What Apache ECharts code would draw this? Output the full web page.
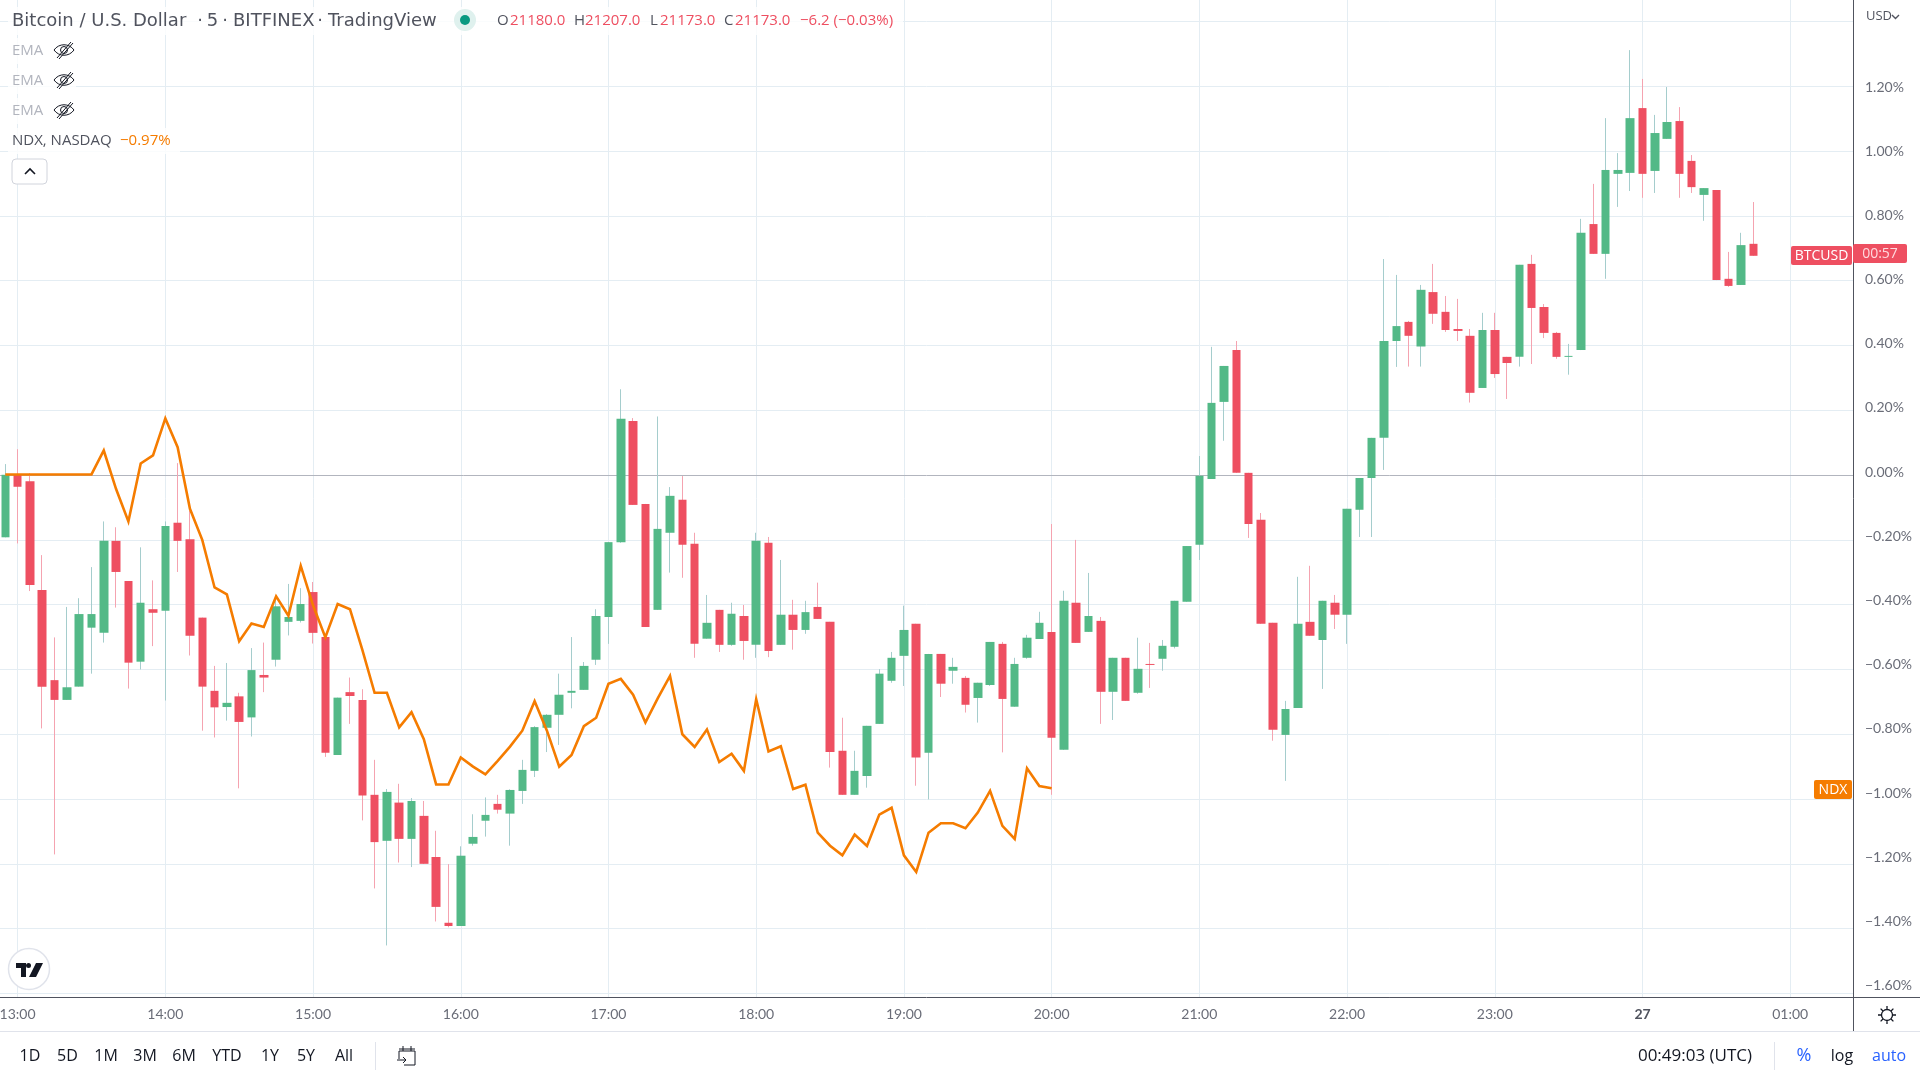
<!DOCTYPE html>
<html lang="en">
<head>
<meta charset="UTF-8">
<title>Bitcoin / U.S. Dollar</title>
<style>
    html, body { margin: 0; padding: 0; background: #fff; }
    #main { width: 1920px; height: 1080px; }
</style>
<script src="https://cdn.jsdelivr.net/npm/echarts@6/dist/echarts.min.js"></script>
</head>
<body>
<div id="main"></div>
<script>
// 5 minute bars, values are % change from the first bar (UTC, 26th into 27th)
const times = [
    '12:55',
    '13:00','13:05','13:10','13:15','13:20','13:25','13:30','13:35','13:40','13:45','13:50','13:55',
    '14:00','14:05','14:10','14:15','14:20','14:25','14:30','14:35','14:40','14:45','14:50','14:55',
    '15:00','15:05','15:10','15:15','15:20','15:25','15:30','15:35','15:40','15:45','15:50','15:55',
    '16:00','16:05','16:10','16:15','16:20','16:25','16:30','16:35','16:40','16:45','16:50','16:55',
    '17:00','17:05','17:10','17:15','17:20','17:25','17:30','17:35','17:40','17:45','17:50','17:55',
    '18:00','18:05','18:10','18:15','18:20','18:25','18:30','18:35','18:40','18:45','18:50','18:55',
    '19:00','19:05','19:10','19:15','19:20','19:25','19:30','19:35','19:40','19:45','19:50','19:55',
    '20:00','20:05','20:10','20:15','20:20','20:25','20:30','20:35','20:40','20:45','20:50','20:55',
    '21:00','21:05','21:10','21:15','21:20','21:25','21:30','21:35','21:40','21:45','21:50','21:55',
    '22:00','22:05','22:10','22:15','22:20','22:25','22:30','22:35','22:40','22:45','22:50','22:55',
    '23:00','23:05','23:10','23:15','23:20','23:25','23:30','23:35','23:40','23:45','23:50','23:55',
    '00:00','00:05','00:10','00:15','00:20','00:25','00:30','00:35','00:40','00:45'
];
const opens = [
    -0.192,0.001,-0.019,-0.355,-0.633,-0.694,-0.653,-0.471,-0.487,-0.203,
    -0.327,-0.576,-0.414,-0.419,-0.147,-0.198,-0.440,-0.666,-0.716,-0.683,
    -0.748,-0.617,-0.570,-0.453,-0.450,-0.361,-0.500,-0.864,-0.670,-0.694,
    -0.987,-1.129,-1.011,-1.123,-1.052,-1.179,-1.382,-1.392,-1.138,-1.067,
    -1.015,-1.045,-0.975,-0.913,-0.780,-0.740,-0.672,-0.663,-0.570,-0.438,
    -0.207,0.167,-0.089,-0.416,-0.178,-0.076,-0.212,-0.505,-0.416,-0.524,
    -0.435,-0.524,-0.209,-0.524,-0.431,-0.478,-0.407,-0.453,-0.851,-0.987,
    -0.929,-0.768,-0.635,-0.558,-0.459,-0.857,-0.552,-0.604,-0.626,-0.688,
    -0.648,-0.521,-0.715,-0.564,-0.506,-0.484,-0.848,-0.394,-0.484,-0.450,
    -0.669,-0.564,-0.672,-0.583,-0.567,-0.530,-0.391,-0.215,-0.012,0.226,
    0.386,0.007,-0.138,-0.456,-0.802,-0.719,-0.453,-0.509,-0.394,-0.431,
    -0.107,-0.009,0.115,0.414,0.473,0.397,0.565,0.504,0.451,0.430,
    0.269,0.448,0.365,0.365,0.652,0.519,0.439,0.365,0.386,0.775,
    0.683,0.930,0.933,1.133,0.939,1.038,1.093,0.970,0.865,0.880,
    0.606,0.587,0.714
];
const closes = [
    0.001,-0.036,-0.339,-0.653,-0.694,-0.655,-0.429,-0.429,-0.203,-0.299,
    -0.579,-0.394,-0.425,-0.157,-0.203,-0.496,-0.653,-0.717,-0.703,-0.762,
    -0.602,-0.625,-0.405,-0.438,-0.398,-0.487,-0.857,-0.687,-0.682,-0.989,
    -1.133,-0.978,-1.123,-1.006,-1.200,-1.333,-1.392,-1.175,-1.117,-1.049,
    -1.033,-0.972,-0.910,-0.778,-0.740,-0.678,-0.666,-0.589,-0.435,-0.207,
    0.174,-0.092,-0.469,-0.166,-0.064,-0.215,-0.521,-0.456,-0.524,-0.428,
    -0.512,-0.203,-0.543,-0.431,-0.478,-0.423,-0.444,-0.855,-0.987,-0.913,
    -0.774,-0.613,-0.564,-0.478,-0.872,-0.552,-0.644,-0.592,-0.709,-0.641,
    -0.515,-0.691,-0.583,-0.502,-0.456,-0.811,-0.388,-0.518,-0.435,-0.669,
    -0.564,-0.697,-0.598,-0.586,-0.527,-0.388,-0.219,-0.002,0.223,0.337,
    0.007,-0.151,-0.459,-0.786,-0.722,-0.459,-0.496,-0.388,-0.431,-0.104,
    -0.009,0.115,0.414,0.460,0.430,0.572,0.498,0.448,0.445,0.254,
    0.448,0.312,0.346,0.649,0.516,0.439,0.365,0.368,0.748,0.683,
    0.942,0.942,1.102,0.930,1.056,1.090,0.930,0.889,0.886,0.602,
    0.584,0.710,0.677
];
const highs = [
    0.034,0.080,0.006,-0.247,-0.501,-0.407,-0.380,-0.284,-0.143,-0.161,
    -0.327,-0.223,-0.325,-0.143,0.037,-0.110,-0.440,-0.589,-0.580,-0.672,
    -0.534,-0.517,-0.374,-0.336,-0.349,-0.330,-0.500,-0.687,-0.625,-0.661,
    -0.879,-0.969,-0.953,-0.997,-1.006,-1.098,-1.201,-1.146,-1.047,-0.995,
    -0.987,-0.970,-0.879,-0.775,-0.738,-0.613,-0.500,-0.577,-0.414,-0.207,
    0.265,0.176,-0.089,0.181,-0.037,-0.003,-0.178,-0.370,-0.416,-0.394,
    -0.401,-0.178,-0.191,-0.262,-0.385,-0.388,-0.332,-0.453,-0.749,-0.851,
    -0.774,-0.599,-0.546,-0.403,-0.459,-0.552,-0.552,-0.564,-0.620,-0.641,
    -0.515,-0.515,-0.564,-0.493,-0.422,-0.151,-0.357,-0.200,-0.302,-0.438,
    -0.564,-0.564,-0.502,-0.518,-0.509,-0.388,-0.219,0.059,0.396,0.337,
    0.414,0.007,-0.117,-0.456,-0.697,-0.314,-0.280,-0.388,-0.370,-0.104,
    -0.009,0.115,0.667,0.618,0.476,0.587,0.652,0.553,0.544,0.451,
    0.501,0.501,0.365,0.649,0.680,0.528,0.442,0.405,0.791,0.899,
    1.102,0.994,1.312,1.223,1.112,1.198,1.136,0.988,0.886,0.880,
    0.689,0.748,0.843
];
const lows = [
    -0.192,-0.211,-0.358,-0.782,-1.171,-0.694,-0.653,-0.613,-0.517,-0.409,
    -0.659,-0.600,-0.528,-0.696,-0.299,-0.557,-0.789,-0.810,-0.758,-0.967,
    -0.807,-0.670,-0.591,-0.495,-0.455,-0.520,-0.870,-0.864,-0.768,-1.066,
    -1.276,-1.452,-1.196,-1.210,-1.200,-1.378,-1.396,-1.392,-1.144,-1.116,
    -1.045,-1.144,-1.015,-0.932,-0.855,-0.833,-0.720,-0.663,-0.586,-0.521,
    -0.209,-0.092,-0.469,-0.416,-0.301,-0.317,-0.564,-0.505,-0.546,-0.527,
    -0.570,-0.564,-0.562,-0.524,-0.539,-0.490,-0.444,-0.903,-0.987,-0.987,
    -0.965,-0.768,-0.641,-0.651,-0.959,-1.001,-0.685,-0.644,-0.733,-0.764,
    -0.651,-0.856,-0.715,-0.567,-0.506,-0.987,-0.848,-0.518,-0.484,-0.768,
    -0.756,-0.697,-0.675,-0.657,-0.604,-0.535,-0.391,-0.262,-0.012,0.106,
    0.007,-0.194,-0.459,-0.820,-0.944,-0.719,-0.496,-0.660,-0.475,-0.521,
    -0.191,-0.191,0.016,0.334,0.335,0.335,0.467,0.442,0.414,0.224,
    0.269,0.300,0.235,0.335,0.343,0.423,0.359,0.310,0.386,0.683,
    0.606,0.828,0.877,0.856,0.871,1.038,0.856,0.871,0.785,0.602,
    0.581,0.587,0.677
];
// NDX overlay stops at 20:00 when the cash session closes
const ndx = [
    0.002,0.002,0.002,0.002,0.002,0.002,0.002,0.002,0.076,-0.043,
    -0.143,0.036,0.061,0.175,0.086,-0.104,-0.200,-0.347,-0.368,-0.513,
    -0.458,-0.469,-0.374,-0.434,-0.280,-0.402,-0.501,-0.398,-0.414,-0.539,
    -0.672,-0.672,-0.779,-0.732,-0.815,-0.955,-0.955,-0.872,-0.900,-0.924,
    -0.882,-0.838,-0.789,-0.698,-0.789,-0.900,-0.864,-0.775,-0.749,-0.644,
    -0.629,-0.678,-0.764,-0.689,-0.620,-0.800,-0.839,-0.785,-0.886,-0.860,
    -0.913,-0.692,-0.853,-0.837,-0.969,-0.956,-1.104,-1.144,-1.174,-1.110,
    -1.145,-1.048,-1.027,-1.174,-1.225,-1.104,-1.075,-1.075,-1.090,-1.042,
    -0.975,-1.083,-1.123,-0.905,-0.960,-0.967
];
const gridValues = [1.4,1.2,1.0,0.8,0.6,0.4,0.2,-0.2,-0.4,-0.6,-0.8,-1.0,-1.2,-1.4,-1.6];
const priceLabels = [1.2,1.0,0.8,0.6,0.4,0.2,0,-0.2,-0.4,-0.6,-0.8,-1.0,-1.2,-1.4,-1.6];

const UP = '#53b987', DOWN = '#ee4f61';
const UP_WICK = '#a5cdcd', DOWN_WICK = '#f5a3b0';
const ORANGE = '#f57c00', BLUE = '#2962ff', INK = '#131722', GREY = '#50535e', AXIS_TEXT = '#6a6d78';
const FONT = '"Open Sans", Lato, sans-serif';
const WIDE_FONT = '"DejaVu Sans", "Open Sans", sans-serif';
const AXIS_FONT = 'Lato, "Open Sans", sans-serif';

// 27th when the hour has rolled past midnight
function toTs(t) {
    const [h, m] = t.split(':').map(Number);
    return Date.UTC(2022, 6, h < 12 ? 27 : 26, h, m);
}
const barTs = times.map(toTs);
const FIVE_MIN = 300000;
const HOUR = 3600000;
const tMin = barTs[0] - 0.43 * FIVE_MIN;
const tMax = barTs[0] + 150.1 * FIVE_MIN;

const wickData = times.map((t, i) => [barTs[i], opens[i], closes[i], lows[i], highs[i]]);
const bodyData = times.map((t, i) => [barTs[i], opens[i], closes[i], Math.min(opens[i], closes[i]), Math.max(opens[i], closes[i])]);
const ndxData = ndx.map((v, i) => [barTs[i], v]);

function label(x, y, text, fill, size, align, family) {
    return {
        type: 'text', x: x, y: y, silent: true, z: 20,
        style: { text: text, fill: fill, fontSize: size, fontFamily: family || FONT, align: align || 'left', verticalAlign: 'middle' }
    };
}
function rect(x, y, w, h, fill, r, opacity, stroke) {
    return {
        type: 'rect', silent: true, z: 10,
        shape: { x: x, y: y, width: w, height: h, r: r || 0 },
        style: { fill: fill, opacity: opacity == null ? 1 : opacity, stroke: stroke || null, lineWidth: stroke ? 1 : 0 }
    };
}
function line(x1, y1, x2, y2, stroke) {
    return { type: 'line', silent: true, z: 9, shape: { x1: x1, y1: y1, x2: x2, y2: y2 }, style: { stroke: stroke, lineWidth: 1 } };
}

// graphic has no plain path type, so the little glyphs get registered as shapes
const GLYPHS = {
    eye: 'M0 9C5 2 15 2 20 9C15 16 5 16 0 9ZM6.5 9a3.5 3.5 0 1 0 7 0a3.5 3.5 0 1 0 -7 0ZM3 17L17 1M5 18L19 2',
    calendar: 'M2 5H18V19H7M2 5V13M2 3H18M6 0V5M14 0V5M0 14H9M6 11L9 14L6 17',
    gear: 'M3.5 9a5.5 5.5 0 1 0 11 0a5.5 5.5 0 1 0 -11 0ZM9 0V3M9 15V18M0 9H3M15 9H18M2.6 2.6L4.7 4.7M13.3 13.3L15.4 15.4M2.6 15.4L4.7 13.3M13.3 4.7L15.4 2.6',
    tvlogo: 'M0 0H10V14H5V5H0ZM20 0H27L20 14H13Z',
    chevronUp: 'M0 5L5 0L10 5',
    caret: 'M0 0L3.5 3.5L7 0'
};
Object.keys(GLYPHS).forEach(function (name) {
    echarts.graphic.registerShape(name, echarts.graphic.extendPath(GLYPHS[name], {}));
});
function icon(name, x, y, stroke, fill, width) {
    return { type: name, silent: true, z: 20, x: x, y: y, style: { stroke: stroke || null, fill: fill || 'none', lineWidth: width || 1 } };
}

const graphics = [
    // legend backdrops, the grid shows through faintly
    rect(8, 7, 895, 28, '#fff', 0, 0.82),
    rect(8, 38, 68, 26, '#fff', 0, 0.82),
    rect(8, 68, 68, 26, '#fff', 0, 0.82),
    rect(8, 98, 68, 26, '#fff', 0, 0.82),
    rect(8, 128, 172, 26, '#fff', 0, 0.82),

    label(12, 21, 'Bitcoin / U.S. Dollar', GREY, 18, 'left', WIDE_FONT),
    label(200, 21, '·', GREY, 18, 'center', WIDE_FONT),
    label(212.5, 21, '5', GREY, 18, 'center', WIDE_FONT),
    label(225, 21, '·', GREY, 18, 'center', WIDE_FONT),
    label(233, 21, 'BITFINEX', GREY, 18, 'left', WIDE_FONT),
    label(320, 21, '·', GREY, 18, 'center', WIDE_FONT),
    label(328, 21, 'TradingView', GREY, 18, 'left', WIDE_FONT),
    { type: 'circle', silent: true, z: 15, shape: { cx: 465, cy: 20, r: 11 }, style: { fill: '#dff1ee' } },
    { type: 'circle', silent: true, z: 16, shape: { cx: 465, cy: 20, r: 5 }, style: { fill: '#089981' } },
    label(497, 21, 'O', GREY, 15),
    label(510, 21, '21180.0', DOWN, 15),
    label(574, 21, 'H', GREY, 15),
    label(585, 21, '21207.0', DOWN, 15),
    label(650, 21, 'L', GREY, 15),
    label(660, 21, '21173.0', DOWN, 15),
    label(724, 21, 'C', GREY, 15),
    label(735, 21, '21173.0', DOWN, 15),
    label(800, 21, '\u22126.2 (\u22120.03%)', DOWN, 15),

    label(12, 51, 'EMA', '#b2b5be', 15),
    label(12, 81, 'EMA', '#b2b5be', 15),
    label(12, 111, 'EMA', '#b2b5be', 15),
    icon('eye', 54, 41, INK),
    icon('eye', 54, 71, INK),
    icon('eye', 54, 101, INK),
    label(12, 141, 'NDX, NASDAQ', GREY, 15),
    label(120, 141, '\u22120.97%', ORANGE, 15),
    rect(12, 159, 35, 25, '#fff', 4, 1, '#d1d4dc'),
    icon('chevronUp', 25, 169, INK, 'none', 1.6),

    // price scale extras
    label(1866, 16, 'USD', GREY, 13),
    icon('caret', 1892, 15, GREY, 'none', 1.4),
    rect(1791, 246, 61, 19, DOWN, 2),
    label(1821.5, 256, 'BTCUSD', '#fff', 14, 'center'),
    rect(1853, 244, 54, 19, DOWN, 2),
    label(1880, 254, '00:57', '#ffd9de', 14, 'center'),
    rect(1814, 780, 38, 19, ORANGE, 2),
    label(1833, 790, 'NDX', '#fff', 14, 'center'),

    // logo badge
    { type: 'circle', silent: true, z: 15, shape: { cx: 29, cy: 969, r: 20.5 }, style: { fill: '#fff', stroke: '#e0e3eb', lineWidth: 1.5 } },
    icon('tvlogo', 16, 963, null, INK),
    { type: 'circle', silent: true, z: 20, shape: { cx: 28.5, cy: 965.5, r: 2.5 }, style: { fill: INK } },

    // chrome lines
    line(1853, 997.5, 1920, 997.5, GREY),
    line(1853.5, 997.5, 1853.5, 1031, GREY),
    line(0, 1031.5, 1920, 1031.5, '#e0e3eb'),
    line(375.5, 1042, 375.5, 1070, '#e0e3eb'),
    line(1774.5, 1042, 1774.5, 1070, '#e0e3eb'),
    icon('gear', 1878, 1006, INK, 'none', 1.3),

    // bottom bar
    label(30, 1056, '1D', INK, 16, 'center'),
    label(67.5, 1056, '5D', INK, 16, 'center'),
    label(106, 1056, '1M', INK, 16, 'center'),
    label(145, 1056, '3M', INK, 16, 'center'),
    label(184, 1056, '6M', INK, 16, 'center'),
    label(227, 1056, 'YTD', INK, 16, 'center'),
    label(270, 1056, '1Y', INK, 16, 'center'),
    label(306, 1056, '5Y', INK, 16, 'center'),
    label(344, 1056, 'All', INK, 16, 'center'),
    icon('calendar', 397, 1046, INK),
    label(1695, 1056, '00:49:03 (UTC)', INK, 17, 'center'),
    label(1804, 1056, '%', BLUE, 18, 'center'),
    label(1842, 1056, 'log', INK, 16, 'center'),
    label(1889, 1056, 'auto', BLUE, 16, 'center')
];

const chart = echarts.init(document.getElementById('main'));
chart.setOption({
    animation: false,
    useUTC: true,
    backgroundColor: '#fff',
    // outerBoundsMode none, otherwise v6 nudges the grid to keep the 13:00 label on canvas
    grid: { left: 0, top: 0, width: 1853, height: 997.5, containLabel: false, outerBoundsMode: 'none' },
    xAxis: {
        type: 'time',
        min: tMin,
        max: tMax,
        containShape: false,
        minInterval: HOUR,
        maxInterval: HOUR,
        axisLine: { show: true, onZero: false, lineStyle: { color: GREY, width: 1 } },
        axisTick: { show: false },
        splitLine: { show: true, showMinLine: false, showMaxLine: false, lineStyle: { color: '#e4edf3', width: 1 } },
        axisLabel: {
            hideOverlap: false,
            showMinLabel: false,
            showMaxLabel: false,
            margin: 10,
            color: AXIS_TEXT,
            fontSize: 14,
            fontFamily: AXIS_FONT,
            formatter: function (v) {
                const d = new Date(v);
                const hh = String(d.getUTCHours()).padStart(2, '0');
                return hh === '00' ? '{day|27}' : '{hour|' + hh + ':00}';
            },
            rich: {
                hour: { color: AXIS_TEXT, fontSize: 14, fontFamily: AXIS_FONT },
                day: { color: GREY, fontSize: 14, fontFamily: AXIS_FONT, fontWeight: 'bold' }
            }
        }
    },
    yAxis: [
        {
            // the candle scale, 64.8px per 0.2%
            type: 'value',
            position: 'right',
            min: -1.6127,
            max: 1.4667,
            axisLine: { show: true, onZero: false, lineStyle: { color: GREY, width: 1 } },
            axisTick: { show: false, customValues: gridValues },
            axisLabel: { show: false, customValues: gridValues },
            splitLine: { show: true, lineStyle: { color: '#e4edf3', width: 1 } }
        },
        {
            // the printed labels sit on a slightly tighter spacing than the grid
            type: 'value',
            position: 'right',
            min: -1.6366,
            max: 1.471,
            axisLine: { show: false },
            axisTick: { show: false, customValues: priceLabels },
            splitLine: { show: false },
            axisLabel: {
                customValues: priceLabels,
                hideOverlap: false,
                margin: 12,
                color: AXIS_TEXT,
                fontSize: 14,
                fontFamily: AXIS_FONT,
                formatter: function (v) {
                    return (v < 0 ? '\u2212' : '') + Math.abs(v).toFixed(2) + '%';
                }
            }
        }
    ],
    series: [
        {
            name: 'wicks',
            type: 'candlestick',
            barWidth: 1,
            z: 2,
            data: wickData,
            encode: { x: 0, y: [1, 2, 3, 4] },
            itemStyle: { color: UP_WICK, color0: DOWN_WICK, borderColor: UP_WICK, borderColor0: DOWN_WICK, borderWidth: 1 },
            markLine: {
                silent: true,
                z: 1,
                symbol: 'none',
                label: { show: false },
                lineStyle: { color: '#b2b5be', type: 'solid', width: 1 },
                data: [{ yAxis: 0 }]
            }
        },
        {
            name: 'BTCUSD',
            type: 'candlestick',
            barWidth: 9,
            z: 3,
            data: bodyData,
            encode: { x: 0, y: [1, 2, 3, 4] },
            itemStyle: { color: UP, color0: DOWN, borderColor: UP, borderColor0: DOWN, borderWidth: 0 }
        },
        {
            name: 'NDX',
            type: 'line',
            z: 4,
            data: ndxData,
            showSymbol: false,
            symbol: 'none',
            smooth: false,
            lineStyle: { color: ORANGE, width: 2.6, join: 'miter' }
        }
    ],
    graphic: graphics
});
</script>
</body>
</html>
